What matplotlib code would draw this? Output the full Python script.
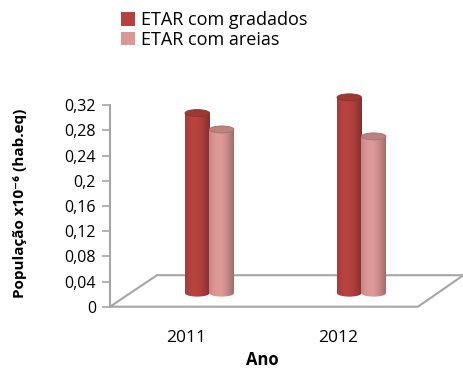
import numpy as np
import matplotlib
matplotlib.use("Agg")
import matplotlib.pyplot as plt
from matplotlib.patches import Ellipse, Patch, Polygon
from matplotlib.colors import to_rgb

# --- data ---
years = ["2011", "2012"]
gradados = [0.286, 0.311]
areias = [0.260, 0.249]
series_names = ["ETAR com gradados", "ETAR com areias"]
series_colors = ["#B5423F", "#DA9794"]
yticks = [0, 0.04, 0.08, 0.12, 0.16, 0.2, 0.24, 0.28, 0.32]
ytick_labels = ["0", "0,04", "0,08", "0,12", "0,16", "0,2", "0,24", "0,28", "0,32"]

# --- layout ---
W, H, DPI = 463, 372, 100
FONT = ["Open Sans", "DejaVu Sans"]
GRAY = "#A6A6A6"
DEPTH_DX, DEPTH_DY = 0.309, 0.050   # floor depth in data units
BAR_W = 0.161
ELL_H = 0.011                        # cylinder cap height in data units

plt.rcParams["font.family"] = FONT

fig = plt.figure(figsize=(W / DPI, H / DPI), dpi=DPI)
ax = fig.add_axes([110 / W, 1 - 306.7 / H, 353 / W, 226.7 / H])
x = np.arange(len(years))

# floor of the 3D plot area
floor = Polygon([(-0.5, 0), (1.526, 0), (1.526 + DEPTH_DX - 0.01, DEPTH_DY),
                 (-0.5 + DEPTH_DX, DEPTH_DY)], closed=True,
                facecolor="white", edgecolor=GRAY, lw=1.5, zorder=1,
                clip_on=False)
ax.add_patch(floor)


def shade(color, n=64):
    """Horizontal shading across a cylinder: dark edges, light left-centre."""
    t = np.linspace(0, 1, n)
    k = 0.72 + 0.30 * np.cos(np.pi * (t - 0.38) / 1.25)
    rgb = np.array(to_rgb(color))
    img = np.clip(rgb[None, :] * k[:, None], 0, 1)
    return img[None, :, :]


base = DEPTH_DY * 0.43
offsets = [DEPTH_DX / 2 - BAR_W / 2, DEPTH_DX / 2 + BAR_W / 2]
for vals, off, col in zip([gradados, areias], offsets, series_colors):
    bars = ax.bar(x + off, vals, BAR_W, bottom=base, color="none",
                  edgecolor="none", zorder=2)
    for b in bars:
        x0, w = b.get_x(), b.get_width()
        y0, h = b.get_y(), b.get_height()
        grad = shade(col)
        im = ax.imshow(grad, extent=(x0, x0 + w, y0, y0 + h), aspect="auto",
                       zorder=3, interpolation="bilinear")
        im.set_clip_path(b)
        bottom = Ellipse((x0 + w / 2, y0), w, ELL_H, facecolor="none",
                         edgecolor="none", zorder=3)
        ax.add_patch(bottom)
        im2 = ax.imshow(grad, extent=(x0, x0 + w, y0 - ELL_H, y0), aspect="auto",
                        zorder=3, interpolation="bilinear")
        im2.set_clip_path(bottom)
        top_rgb = np.array(to_rgb(col)) * 0.86
        ax.add_patch(Ellipse((x0 + w / 2, y0 + h), w, ELL_H,
                             facecolor=top_rgb, edgecolor=np.array(to_rgb(col)) * 0.75,
                             lw=0.6, zorder=4))

ax.set_xlim(-0.5, -0.5 + 353 / 152)
ax.set_ylim(0, 0.36)

for s in ["top", "right", "bottom"]:
    ax.spines[s].set_visible(False)
ax.spines["left"].set_bounds(0, 0.32)
ax.spines["left"].set_color(GRAY)
ax.spines["left"].set_linewidth(1.5)

ax.set_yticks(yticks)
ax.set_yticklabels(ytick_labels, fontsize=11.5)
ax.tick_params(axis="y", colors=GRAY, labelcolor="black", length=6, width=1.2,
               pad=4)
ax.set_xticks(x)
ax.set_xticklabels(years, fontsize=12.5)
ax.tick_params(axis="x", length=0, pad=17)

ax.set_xlabel("Ano", fontsize=12, fontweight="bold")
ax.xaxis.set_label_coords((262 - 110) / 353, -(351 - 306.7) / 226.7)
ax.set_ylabel("População x10⁻⁶ (hab.eq)", fontsize=11, fontweight="bold")
ax.yaxis.set_label_coords((27 - 110) / 353, (306.7 - 203) / 226.7)

handles = [Patch(facecolor=c, edgecolor="none") for c in series_colors]
fig.legend(handles, series_names, loc="upper left",
           bbox_to_anchor=(114 / W, 1 - 4 / H), frameon=False, fontsize=13,
           handlelength=0.75, handleheight=0.75, handletextpad=0.35,
           labelspacing=0.1, borderaxespad=0)

fig.savefig("out.png", dpi=DPI, facecolor="white")
